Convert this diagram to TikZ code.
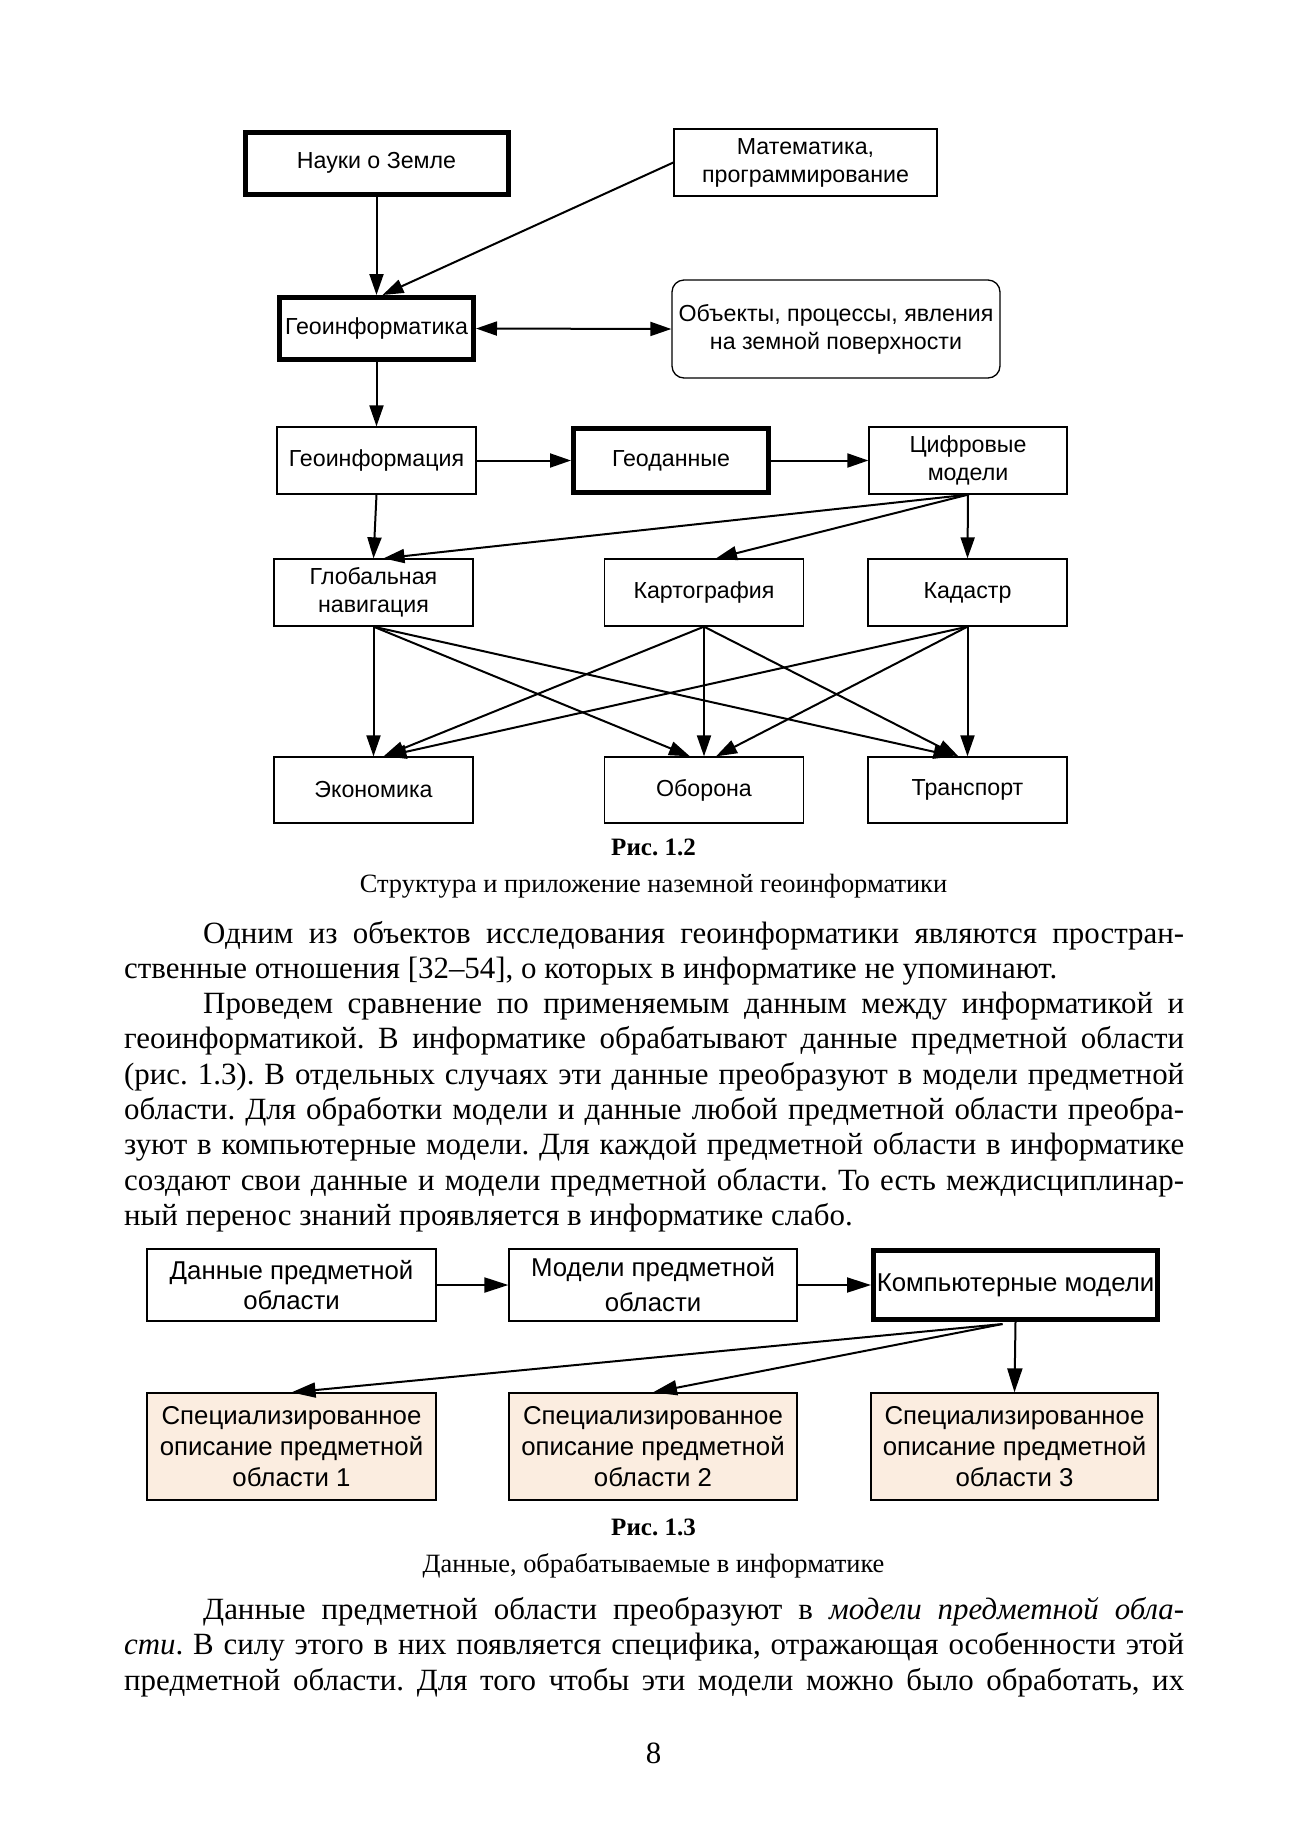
\documentclass[tikz,border=0pt]{standalone}
\usepackage{fontspec}
\setmainfont{Liberation Serif}
\newfontfamily\dsf{Liberation Sans}
\usetikzlibrary{arrows.meta,calc}
\frenchspacing
\tikzset{
  box/.style={draw, line width=1.3pt, inner sep=0pt, align=center, font=\dsf\fontsize{23.2}{28}\selectfont},
  thickbox/.style={box, line width=5pt},
  boxb/.style={draw, line width=1.3pt, inner sep=0pt, align=center, font=\dsf\fontsize{25.8}{31}\selectfont},
  thickboxb/.style={boxb, line width=5pt},
  specbox/.style={boxb, fill=specfill},
  arr/.style={-{Triangle[length=21pt,width=14pt]}, line width=2pt},
  arrb/.style={-{Triangle[length=24pt,width=15pt]}, line width=2pt},
  dbl/.style={{Triangle[length=21pt,width=14pt]}-{Triangle[length=21pt,width=14pt]}, line width=2pt},
  bodyline/.style={anchor=base west, inner sep=0pt, font=\fontsize{30.9}{35}\selectfont},
  capline/.style={anchor=base, inner sep=0pt, font=\fontsize{26.4}{30}\selectfont}
}
\definecolor{specfill}{RGB}{251,237,224}
\begin{document}
\begin{tikzpicture}[x=1pt,y=-1pt]
\useasboundingbox[fill=white] (0,0) rectangle (1307,1848);

% ---------- Fig 1.2 ----------
\node[thickbox, minimum width=263pt, minimum height=62pt] (nauki) at (376.5,163) {Науки о Земле};
\node[box, minimum width=263pt, minimum height=67pt] (math) at (805.5,162.5) {Математика,\\программирование};
\node[thickbox, minimum width=194pt, minimum height=62pt] (geoinf) at (376.5,328.5) {Геоинформатика};
\node[box, rounded corners=12pt, minimum width=328pt, minimum height=98pt] (obj) at (836,329) {Объекты, процессы, явления\\на земной поверхности};
\node[box, minimum width=199pt, minimum height=67pt] (ginf) at (376.5,460.5) {Геоинформация};
\node[thickbox, minimum width=195pt, minimum height=64pt] (gdat) at (671,460.5) {Геоданные};
\node[box, minimum width=198pt, minimum height=67pt] (cifr) at (968,460.5) {Цифровые\\модели};
\node[box, minimum width=199pt, minimum height=67pt] (glob) at (373.5,592.5) {Глобальная\\навигация};
\node[box, minimum width=199pt, minimum height=67pt] (kart) at (704,592.5) {Картография};
\node[box, minimum width=199pt, minimum height=67pt] (kad) at (967.5,592.5) {Кадастр};
\node[box, minimum width=199pt, minimum height=66pt] (econ) at (373.5,790) {Экономика};
\node[box, minimum width=199pt, minimum height=66pt] (obor) at (704,790) {Оборона};
\node[box, minimum width=199pt, minimum height=66pt] (trans) at (967.5,790) {Транспорт};

\draw[arr] (nauki.south) -- (geoinf.north);
\draw[arr] (math.west) -- ($(geoinf.north)+(6,0)$);
\draw[dbl] (geoinf.east) -- (obj.west);
\draw[arr] (geoinf.south) -- (ginf.north);
\draw[arr] (ginf.east) -- (gdat.west);
\draw[arr] (gdat.east) -- (cifr.west);
\draw[arr] (ginf.south) -- (glob.north);
\draw[arr] (cifr.south) -- ($(glob.north)+(10,0)$);
\draw[arr] (cifr.south) -- ($(kart.north)+(12,0)$);
\draw[arr] (cifr.south) -- (kad.north);

\draw[arr] (glob.south) -- (econ.north);
\draw[arr] (glob.south) -- ($(obor.north)+(-14,0)$);
\draw[arr] (glob.south) -- ($(trans.north)+(-13,0)$);
\draw[arr] (kart.south) -- ($(econ.north)+(10,0)$);
\draw[arr] (kart.south) -- (obor.north);
\draw[arr] (kart.south) -- ($(trans.north)+(-9,0)$);
\draw[arr] (kad.south) -- ($(econ.north)+(12,0)$);
\draw[arr] (kad.south) -- ($(obor.north)+(12,0)$);
\draw[arr] (kad.south) -- (trans.north);

\node[capline, font=\bfseries\fontsize{25}{30}\selectfont] (cap1) at (653.5,855) {Рис. 1.2};
\node[capline] (cap1b) at (653.5,892) {Структура и приложение наземной геоинформатики};

% ---------- Body text ----------
\node[bodyline] (l1) at (203,943) {\makebox[981pt][s]{Одним из объектов исследования геоинформатики являются простран-}};
\node[bodyline] (l2) at (124,978.3) {ственные отношения [32–54], о которых в информатике не упоминают.};
\node[bodyline] (l3) at (203,1013.6) {\makebox[981pt][s]{Проведем сравнение по применяемым данным между информатикой и}};
\node[bodyline] (l4) at (124,1048.9) {\makebox[1060pt][s]{геоинформатикой. В информатике обрабатывают данные предметной области}};
\node[bodyline] (l5) at (124,1084.2) {\makebox[1060pt][s]{(рис. 1.3). В отдельных случаях эти данные преобразуют в модели предметной}};
\node[bodyline] (l6) at (124,1119.5) {\makebox[1060pt][s]{области. Для обработки модели и данные любой предметной области преобра-}};
\node[bodyline] (l7) at (124,1154.8) {\makebox[1060pt][s]{зуют в компьютерные модели. Для каждой предметной области в информатике}};
\node[bodyline] (l8) at (124,1190.1) {\makebox[1060pt][s]{создают свои данные и модели предметной области. То есть междисциплинар-}};
\node[bodyline] (l9) at (124,1225.4) {ный перенос знаний проявляется в информатике слабо.};

% ---------- Fig 1.3 ----------
\node[boxb, minimum width=289pt, minimum height=72pt, font=\dsf\fontsize{25.8}{30}\selectfont] (dan) at (291.5,1285) {Данные предметной\\области};
\node[boxb, minimum width=288pt, minimum height=72pt, font=\dsf\fontsize{25.8}{35}\selectfont] (mod) at (653,1285) {Модели предметной\\области};
\node[thickboxb, minimum width=284pt, minimum height=69pt] (komp) at (1015.5,1285) {Компьютерные модели};
\node[specbox, minimum width=289pt, minimum height=107pt] (spec1) at (291.5,1446.5) {Специализированное\\описание предметной\\области 1};
\node[specbox, minimum width=288pt, minimum height=107pt] (spec2) at (653,1446.5) {Специализированное\\описание предметной\\области 2};
\node[specbox, minimum width=287pt, minimum height=107pt] (spec3) at (1014.5,1446.5) {Специализированное\\описание предметной\\области 3};

\coordinate (kfork) at ($(komp.south)+(-13,2)$);
\draw[arrb] (dan.east) -- (mod.west);
\draw[arrb] (mod.east) -- (komp.west);
\draw[arrb] (kfork) -- (spec1.north);
\draw[arrb] (kfork) -- (spec2.north);
\draw[arrb] (komp.south) -- (spec3.north);

\node[capline, font=\bfseries\fontsize{25}{30}\selectfont] (cap2) at (653.5,1535) {Рис. 1.3};
\node[capline] (cap2b) at (653.5,1572) {Данные, обрабатываемые в информатике};

\node[bodyline] (m1) at (203,1619.6) {\makebox[981pt][s]{Данные предметной области преобразуют в \textit{модели предметной обла-}}};
\node[bodyline] (m2) at (124,1654.6) {\makebox[1060pt][s]{\textit{сти}. В силу этого в них появляется специфика, отражающая особенности этой}};
\node[bodyline] (m3) at (124,1690) {\makebox[1060pt][s]{предметной области. Для того чтобы эти модели можно было обработать, их}};

\node[capline, font=\fontsize{30.9}{35}\selectfont] (pg) at (653.5,1763.5) {8};
\end{tikzpicture}
\end{document}
